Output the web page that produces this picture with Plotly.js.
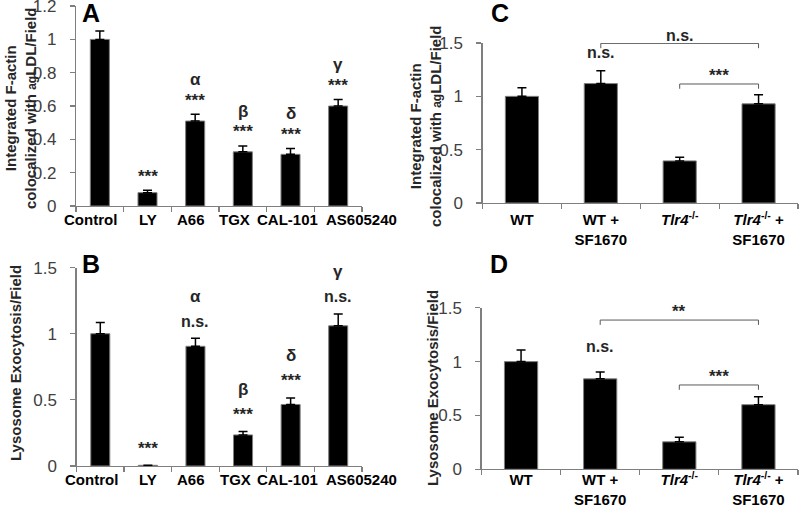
<!DOCTYPE html>
<html>
<head>
<meta charset="utf-8">
<script src="https://cdn.plot.ly/plotly-3.0.1.min.js"></script>
<style>html,body{margin:0;padding:0;background:#fff;}#chart{width:800px;height:508px;}</style>
</head>
<body>
<div id="chart"></div>
<script>
// ---------- Data ----------
const catsAB = ["Control", "LY", "A66", "TGX", "CAL-101", "AS605240"];
const valsA = [1.00, 0.08, 0.51, 0.325, 0.31, 0.60];
const errA  = [0.05, 0.015, 0.04, 0.035, 0.035, 0.04];
const starsA = ["", "***", "***", "***", "***", "***"];
const greekA = ["", "", "α", "β", "δ", "γ"];

const valsB = [1.00, 0.005, 0.905, 0.235, 0.465, 1.06];
const errB  = [0.085, 0.0, 0.06, 0.025, 0.05, 0.09];
const starsB = ["", "***", "n.s.", "***", "***", "n.s."];
const greekB = ["", "", "α", "β", "δ", "γ"];

const catsCD = ["WT", "WT +<br>SF1670", "<i>Tlr4</i><sup>-/-</sup>", "<i>Tlr4</i><sup>-/-</sup> +<br>SF1670"];
const valsC = [1.00, 1.12, 0.395, 0.93];
const errC  = [0.08, 0.12, 0.035, 0.085];
const starsC = ["", "n.s.", "", ""];
const bracketsC = [ {from: 1, to: 3, h: 1.497, label: "n.s."}, {from: 2, to: 3, h: 1.116, label: "***"} ];

const valsD = [1.00, 0.84, 0.255, 0.60];
const errD  = [0.107, 0.063, 0.042, 0.074];
const starsD = ["", "n.s.", "", ""];
const bracketsD = [ {from: 1, to: 3, h: 1.386, label: "**"}, {from: 2, to: 3, h: 0.783, label: "***"} ];

const rangeA = [0, 1.2], rangeB = [0, 1.5], rangeC = [0, 1.5], rangeD = [0, 1.5];

// ---------- Styles ----------
const FONT = "Liberation Sans, Arial, sans-serif";
const TXT = "#262626";
// horizontal nudges (px) of the A/B category labels, as laid out in the original figure
const labelShiftAB = [-9, 0, -4, -8, -3, 23];

function barTrace(cats, vals, errs, xa, ya, w) {
  return {
    type: "bar", x: cats, y: vals, xaxis: xa, yaxis: ya, width: w,
    marker: {color: "#000000", line: {color: "#7f7f7f", width: 1}},
    error_y: {type: "data", array: errs, arrayminus: errs.map(() => 0), symmetric: false,
              color: "#000000", thickness: 1.5, width: 4.5},
    showlegend: false, hoverinfo: "x+y"
  };
}

const data = [
  barTrace(catsAB, valsA, errA, "x", "y", 0.4),
  barTrace(catsAB, valsB, errB, "x2", "y2", 0.4),
  barTrace(catsCD, valsC, errC, "x3", "y3", 0.42),
  barTrace(catsCD, valsD, errD, "x4", "y4", 0.42)
];

function xaxisDef(domain, anchor, nCats, showLabels, standoff) {
  return {
    domain: domain, anchor: anchor, type: "category", range: [-0.5, nCats - 0.5], autorange: false,
    showline: true, linecolor: "#7f7f7f", linewidth: 1.2,
    ticks: "outside", tickson: "boundaries", ticklen: 5, tickcolor: "#7f7f7f", tickwidth: 1.2,
    tickangle: 0, automargin: false, showticklabels: showLabels, ticklabelstandoff: standoff,
    ticklabeloverflow: "allow",
    tickfont: {family: FONT, size: 15, color: "#000", weight: "bold"},
    showgrid: false, zeroline: false, fixedrange: true
  };
}
function yaxisDef(domain, anchor, range, dtick) {
  return {
    domain: domain, anchor: anchor, range: [range[0], range[1] * 1.0005], autorange: false,
    dtick: dtick, tick0: 0,
    showline: true, linecolor: "#7f7f7f", linewidth: 1.2,
    ticks: "outside", ticklen: 5, tickcolor: "#7f7f7f", tickwidth: 1.2,
    ticklabelstandoff: 10, automargin: false, ticklabeloverflow: "allow",
    tickfont: {family: FONT, size: 17, color: "#404040"},
    showgrid: false, zeroline: false, fixedrange: true
  };
}

const annotations = [];
const shapes = [];

// category labels for A and B
[["x", "y"], ["x2", "y2"]].forEach(ax => {
  catsAB.forEach((c, i) => {
    annotations.push({x: c, y: 0, xref: ax[0], yref: ax[1], text: c, showarrow: false,
      xanchor: "center", yanchor: "middle", xshift: labelShiftAB[i], yshift: -14,
      font: {family: FONT, size: 15, color: "#000", weight: "bold"}});
  });
});

function addLabels(cats, vals, errs, stars, greek, xa, ya, starOff, greekOff) {
  cats.forEach((c, i) => {
    const top = vals[i] + errs[i];
    if (stars[i]) {
      const isStar = stars[i].indexOf("*") >= 0;
      annotations.push({x: c, y: top + starOff, xref: xa, yref: ya, text: stars[i], showarrow: false,
        yanchor: "middle", font: {family: FONT, size: isStar ? 17 : 16, color: TXT, weight: "bold"}});
    }
    if (greek && greek[i]) {
      annotations.push({x: c, y: top + greekOff, xref: xa, yref: ya, text: greek[i], showarrow: false,
        yanchor: "middle", font: {family: FONT, size: 17, color: TXT, weight: "bold"}});
    }
  });
}
addLabels(catsAB, valsA, errA, starsA, greekA, "x", "y", 0.085, 0.21);
addLabels(catsAB, valsB, errB, starsB, greekB, "x2", "y2", 0.13, 0.32);
addLabels(catsCD, valsC, errC, starsC, null, "x3", "y3", 0.17, 0);
addLabels(catsCD, valsD, errD, starsD, null, "x4", "y4", 0.235, 0);

function addBrackets(brs, xa, ya, yr, drop, textOff) {
  brs.forEach(b => {
    const line = {type: "line", xref: xa, yref: ya, line: {color: "#595959", width: 1}};
    shapes.push(Object.assign({}, line, {x0: b.from, x1: b.to, y0: b.h, y1: b.h}));
    shapes.push(Object.assign({}, line, {x0: b.from, x1: b.from, y0: b.h, y1: b.h - drop}));
    shapes.push(Object.assign({}, line, {x0: b.to, x1: b.to, y0: b.h, y1: b.h - drop}));
    // label positioned in axis-domain units so it may sit above the axis range
    annotations.push({x: (b.from + b.to) / 2, y: (b.h + textOff - yr[0]) / (yr[1] - yr[0]),
      xref: xa, yref: ya + " domain", text: b.label,
      showarrow: false, yanchor: "middle",
      font: {family: FONT, size: b.label.indexOf("*") >= 0 ? 17 : 16, color: TXT, weight: "bold"}});
  });
}
addBrackets(bracketsC, "x3", "y3", rangeC, 0.045, 0.075);
addBrackets(bracketsD, "x4", "y4", rangeD, 0.045, 0.08);

// Panel letters
[["A", 91, 13], ["B", 91, 264], ["C", 500, 13], ["D", 499, 264]].forEach(p => {
  annotations.push({x: p[1] / 800, y: 1 - p[2] / 508, xref: "paper", yref: "paper", text: p[0],
    showarrow: false, xanchor: "center", yanchor: "middle",
    font: {family: FONT, size: 25, color: "#000", weight: "bold"}});
});

// Y-axis titles
const agTitle = "Integrated F-actin<br>colocalized with <span style='font-size:12px'>ag</span>LDL/Field";
const lysoTitle = "Lysosome Exocytosis/Field";
[[agTitle, 20, 108], [lysoTitle, 15, 363], [agTitle, 425, 126], [lysoTitle, 432, 388]].forEach(t => {
  annotations.push({x: t[1] / 800, y: 1 - t[2] / 508, xref: "paper", yref: "paper", text: t[0],
    showarrow: false, textangle: -90, xanchor: "center", yanchor: "middle",
    font: {family: FONT, size: 15, color: TXT, weight: "bold"}});
});

const layout = {
  width: 800, height: 508,
  margin: {l: 0, r: 0, t: 0, b: 0},
  paper_bgcolor: "#ffffff", plot_bgcolor: "#ffffff",
  showlegend: false,
  xaxis: xaxisDef([76 / 800, 362 / 800], "y", catsAB.length, false, 0),
  yaxis: yaxisDef([0.5945, 0.9882], "x", rangeA, 0.2),
  xaxis2: xaxisDef([76.5 / 800, 362 / 800], "y2", catsAB.length, false, 0),
  yaxis2: yaxisDef([0.0827, 0.4734], "x2", rangeB, 0.5),
  xaxis3: xaxisDef([482.5 / 800, 798 / 800], "y3", catsCD.length, true, 3),
  yaxis3: yaxisDef([0.6004, 0.9154], "x3", rangeC, 0.5),
  xaxis4: xaxisDef([481.5 / 800, 798 / 800], "y4", catsCD.length, true, -3),
  yaxis4: yaxisDef([0.0762, 0.3943], "x4", rangeD, 0.5),
  annotations: annotations,
  shapes: shapes
};

Plotly.newPlot("chart", data, layout, {displayModeBar: false, staticPlot: true});
</script>
</body>
</html>
